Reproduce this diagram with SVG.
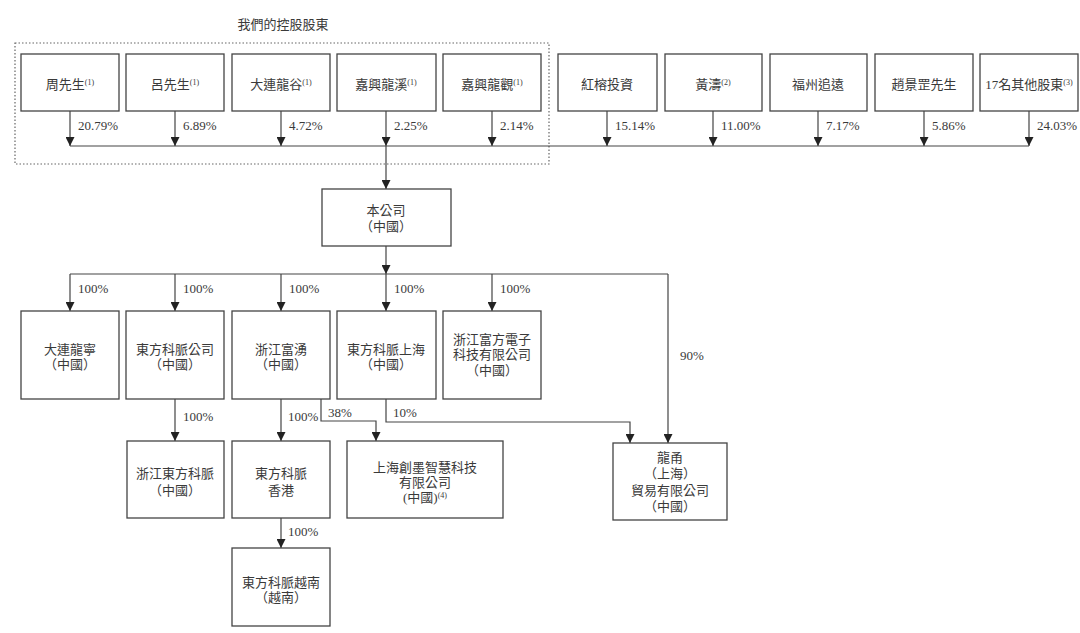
<svg xmlns="http://www.w3.org/2000/svg" width="1080" height="633" viewBox="0 0 1080 633">
<style>
  .box { fill: #ffffff; stroke: #444; stroke-width: 1.3; }
  .t { font-family: 'Liberation Serif', 'Noto Sans CJK TC', serif; font-size: 13px; fill: #3a3a3a; text-anchor: middle; }
  .p { font-family: 'Liberation Serif', 'Noto Sans CJK TC', serif; font-size: 13px; fill: #3a3a3a; }
  .sup { font-size: 8px; }
  .ln { fill: none; stroke: #444; stroke-width: 1.2; }
  .arr { fill: none; stroke: #444; stroke-width: 1.2; marker-end: url(#ah); }
</style>
<defs>
  <marker id="ah" markerUnits="userSpaceOnUse" markerWidth="9" markerHeight="9" viewBox="0 0 9 9" refX="9" refY="4.5" orient="auto">
    <path d="M0,0 L9,4.5 L0,9 z" fill="#222"/>
  </marker>
</defs>
<rect width="1080" height="633" fill="#ffffff"/>

<g id="controlling-group">
  <rect x="15" y="43" width="534" height="121" fill="none" stroke="#666" stroke-width="1.2" stroke-dasharray="1.5 2"/>
  <text class="t" x="283" y="29">我們的控股股東</text>
</g>

<g id="connectors">
  <path class="arr" d="M70,111 V146"/>
  <path class="arr" d="M175,111 V146"/>
  <path class="arr" d="M281,111 V146"/>
  <path class="arr" d="M386,111 V146"/>
  <path class="arr" d="M492,111 V146"/>
  <path class="arr" d="M607,111 V146"/>
  <path class="arr" d="M713,111 V146"/>
  <path class="arr" d="M818,111 V146"/>
  <path class="arr" d="M924,111 V146"/>
  <path class="arr" d="M1029,111 V146"/>
  <path class="ln" d="M70,146 H1029"/>
  <path class="arr" d="M386,146 V189"/>
  <path class="arr" d="M386,246 V274"/>
  <path class="ln" d="M70,274 H668"/>
  <path class="arr" d="M70,274 V311"/>
  <path class="arr" d="M175,274 V311"/>
  <path class="arr" d="M281,274 V311"/>
  <path class="arr" d="M386,274 V311"/>
  <path class="arr" d="M492,274 V311"/>
  <path class="arr" d="M668,274 V443"/>
  <path class="arr" d="M175,399 V441"/>
  <path class="arr" d="M281,399 V441"/>
  <path class="arr" d="M321,399 V421 H376 V441"/>
  <path class="arr" d="M386,399 V422 H630 V443"/>
  <path class="arr" d="M281,518 V548"/>

  <text class="p" x="78" y="130">20.79%</text>
  <text class="p" x="183" y="130">6.89%</text>
  <text class="p" x="289" y="130">4.72%</text>
  <text class="p" x="394" y="130">2.25%</text>
  <text class="p" x="500" y="130">2.14%</text>
  <text class="p" x="615" y="130">15.14%</text>
  <text class="p" x="721" y="130">11.00%</text>
  <text class="p" x="826" y="130">7.17%</text>
  <text class="p" x="932" y="130">5.86%</text>
  <text class="p" x="1037" y="130">24.03%</text>

  <text class="p" x="78" y="293">100%</text>
  <text class="p" x="183" y="293">100%</text>
  <text class="p" x="289" y="293">100%</text>
  <text class="p" x="394" y="293">100%</text>
  <text class="p" x="500" y="293">100%</text>
  <text class="p" x="680" y="360">90%</text>
  <text class="p" x="183" y="421">100%</text>
  <text class="p" x="288" y="421">100%</text>
  <text class="p" x="328" y="417">38%</text>
  <text class="p" x="393" y="417">10%</text>
  <text class="p" x="288" y="536">100%</text>
</g>

<g id="n-zhou"><rect class="box" x="21" y="54" width="98" height="57"/><text class="t" x="70" y="89">周先生<tspan class="sup" dy="-4">(1)</tspan></text></g>
<g id="n-lv"><rect class="box" x="126" y="54" width="98" height="57"/><text class="t" x="175" y="89">呂先生<tspan class="sup" dy="-4">(1)</tspan></text></g>
<g id="n-dalian-longgu"><rect class="box" x="232" y="54" width="98" height="57"/><text class="t" x="281" y="89">大連龍谷<tspan class="sup" dy="-4">(1)</tspan></text></g>
<g id="n-jiaxing-longxi"><rect class="box" x="337" y="54" width="99" height="57"/><text class="t" x="386" y="89">嘉興龍溪<tspan class="sup" dy="-4">(1)</tspan></text></g>
<g id="n-jiaxing-longguan"><rect class="box" x="443" y="54" width="98" height="57"/><text class="t" x="492" y="89">嘉興龍觀<tspan class="sup" dy="-4">(1)</tspan></text></g>
<g id="n-hongrong"><rect class="box" x="558" y="54" width="99" height="57"/><text class="t" x="607" y="89">紅榕投資</text></g>
<g id="n-huangtao"><rect class="box" x="665" y="54" width="97" height="57"/><text class="t" x="713" y="89">黃濤<tspan class="sup" dy="-4">(2)</tspan></text></g>
<g id="n-fuzhou"><rect class="box" x="770" y="54" width="97" height="57"/><text class="t" x="818" y="89">福州追遠</text></g>
<g id="n-zhao"><rect class="box" x="875" y="54" width="98" height="57"/><text class="t" x="924" y="89">趙景罡先生</text></g>
<g id="n-others"><rect class="box" x="980" y="54" width="98" height="57"/><text class="t" x="1029" y="89">17名其他股東<tspan class="sup" dy="-4">(3)</tspan></text></g>

<g id="n-company"><rect class="box" x="322" y="189" width="129" height="57"/><text class="t" x="386" y="215">本公司</text><text class="t" x="386" y="231">（中國）</text></g>

<g id="n-dalian-longning"><rect class="box" x="21" y="311" width="98" height="88"/><text class="t" x="70" y="354">大連龍寧</text><text class="t" x="70" y="369">（中國）</text></g>
<g id="n-dongfang-company"><rect class="box" x="126" y="311" width="98" height="88"/><text class="t" x="175" y="354">東方科脈公司</text><text class="t" x="175" y="369">（中國）</text></g>
<g id="n-zhejiang-fuyong"><rect class="box" x="232" y="311" width="98" height="88"/><text class="t" x="281" y="354">浙江富湧</text><text class="t" x="281" y="369">（中國）</text></g>
<g id="n-dongfang-shanghai"><rect class="box" x="337" y="311" width="99" height="88"/><text class="t" x="386" y="354">東方科脈上海</text><text class="t" x="386" y="369">（中國）</text></g>
<g id="n-zhejiang-fufang"><rect class="box" x="443" y="311" width="98" height="88"/><text class="t" x="492" y="344">浙江富方電子</text><text class="t" x="492" y="359">科技有限公司</text><text class="t" x="492" y="375">（中國）</text></g>

<g id="n-zhejiang-dongfang"><rect class="box" x="127" y="441" width="97" height="77"/><text class="t" x="175" y="478">浙江東方科脈</text><text class="t" x="175" y="495">（中國）</text></g>
<g id="n-dongfang-hk"><rect class="box" x="232" y="441" width="98" height="77"/><text class="t" x="281" y="478">東方科脈</text><text class="t" x="281" y="495">香港</text></g>
<g id="n-shanghai-chuangmo"><rect class="box" x="347" y="441" width="156" height="77"/><text class="t" x="425" y="472">上海創墨智慧科技</text><text class="t" x="425" y="487">有限公司</text><text class="t" x="425" y="502">(中國)<tspan class="sup" dy="-4">(4)</tspan></text></g>
<g id="n-longyong"><rect class="box" x="613" y="443" width="114" height="77"/><text class="t" x="670" y="462">龍甬</text><text class="t" x="670" y="478">（上海）</text><text class="t" x="670" y="495">貿易有限公司</text><text class="t" x="670" y="511">（中國）</text></g>

<g id="n-dongfang-vietnam"><rect class="box" x="232" y="548" width="98" height="78"/><text class="t" x="281" y="587">東方科脈越南</text><text class="t" x="281" y="602">（越南）</text></g>
</svg>
